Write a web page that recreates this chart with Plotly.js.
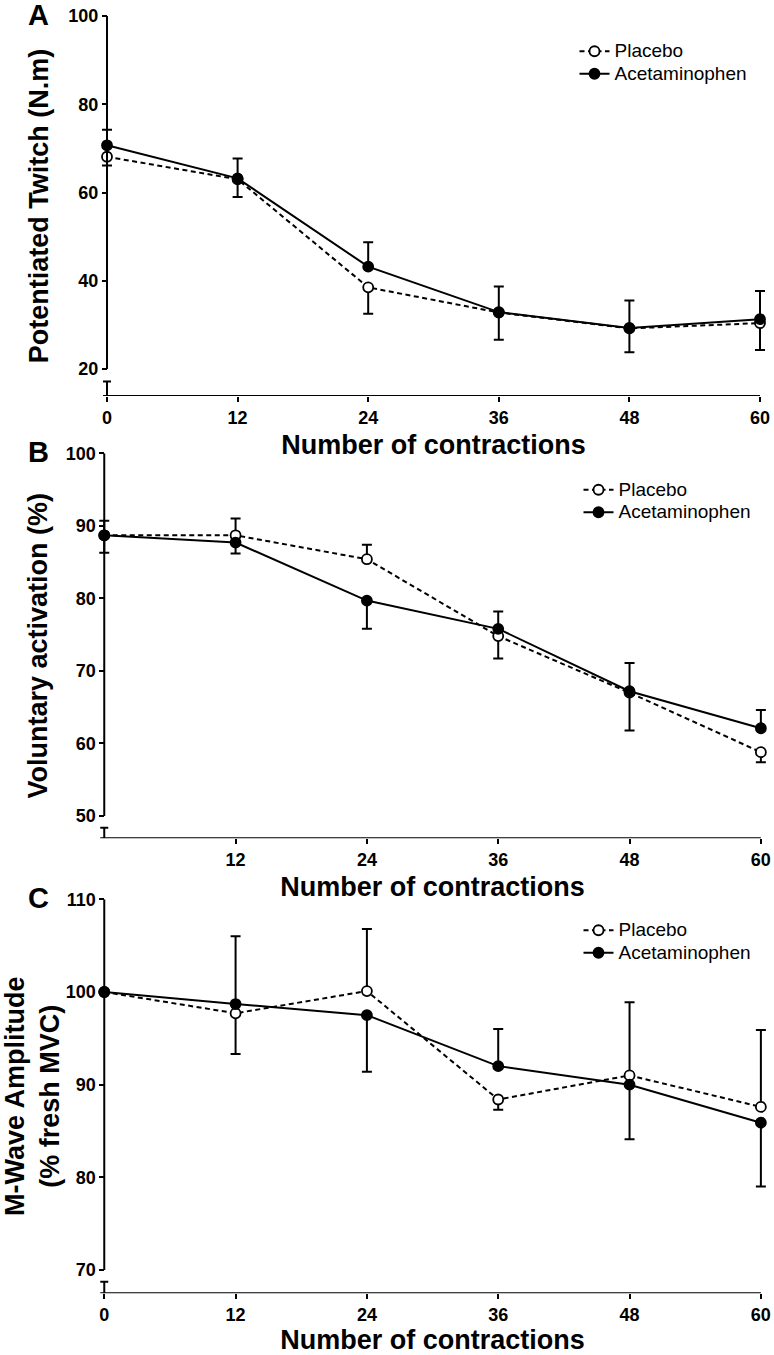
<!DOCTYPE html>
<html>
<head>
<meta charset="utf-8">
<script src="https://cdn.plot.ly/plotly-3.0.1.min.js"></script>
<style>html,body{margin:0;padding:0;background:#fff;}#chart{width:774px;height:1355px;}</style>
</head>
<body>
<div id="chart"></div>
<script>
// ---------- data ----------
const contractions = [0, 12, 24, 36, 48, 60];
const seriesNames = ['Placebo', 'Acetaminophen'];

// Panel A: Potentiated Twitch (N.m)
const placeboA = [68.1, 63.0, 38.5, 32.8, 29.2, 30.4];
const placeboA_errUp = [0, 0, 0, 0, 0, 0];
const placeboA_errDown = [2.0, 4.0, 6.0, 6.2, 5.4, 6.1];
const acetA = [70.7, 63.2, 43.2, 32.9, 29.3, 31.3];
const acetA_errUp = [3.5, 4.5, 5.5, 5.8, 6.2, 6.4];
const acetA_errDown = [0, 0, 0, 0, 0, 0];

// Panel B: Voluntary activation (%)
const placeboB = [88.7, 88.7, 85.4, 74.8, 67.0, 58.8];
const placeboB_errUp = [2.0, 2.3, 2.0, 0, 0, 0];
const placeboB_errDown = [0, 0, 0, 3.1, 5.2, 1.4];
const acetB = [88.7, 87.7, 79.7, 75.8, 67.2, 62.1];
const acetB_errUp = [0, 0, 0, 2.4, 3.9, 2.5];
const acetB_errDown = [2.4, 1.5, 3.9, 0, 0, 0];

// Panel C: M-Wave Amplitude (% fresh MVC)
const placeboC = [100, 97.7, 100.1, 88.4, 91.0, 87.6];
const placeboC_errUp = [0, 0, 6.7, 0, 7.9, 8.3];
const placeboC_errDown = [0, 4.4, 0, 1.1, 0, 0];
const acetC = [100, 98.7, 97.5, 92.0, 90.0, 85.9];
const acetC_errUp = [0, 7.3, 0, 4.0, 0, 0];
const acetC_errDown = [0, 0, 6.1, 0, 5.9, 6.9];

// tick labels
const xTicksA = [0, 12, 24, 36, 48, 60];
const xTicksB = [12, 24, 36, 48, 60];
const xTicksC = [0, 12, 24, 36, 48, 60];
const yTicksA = [20, 40, 60, 80, 100];
const yTicksB = [50, 60, 70, 80, 90, 100];
const yTicksC = [70, 80, 90, 100, 110];

const xTitle = 'Number of contractions';
const yTitleA = 'Potentiated Twitch (N.m)';
const yTitleB = 'Voluntary activation (%)';
const yTitleC = 'M-Wave Amplitude<br>(% fresh MVC)';
const panelLetters = ['A', 'B', 'C'];

// ---------- styling / layout ----------
const FONT = 'Liberation Sans, Arial, Helvetica, sans-serif';
const W = 774, H = 1355;
const px2fx = p => p / W;
const px2fy = p => 1 - p / H;
const X_MIN = 0, X_MAX = 60, X_PAD = 1.2; // pad keeps end error-bar caps unclipped
const legendLabel = s => '<span style="font-size:19px">' + s + '</span>';

const panels = [
  {key: '', letter: panelLetters[0], pl: placeboA, plU: placeboA_errUp, plD: placeboA_errDown,
   ac: acetA, acU: acetA_errUp, acD: acetA_errDown, xt: xTicksA, yt: yTicksA, ytitle: yTitleA,
   xdom: [107, 760], ydom: [16, 396], yrange: [13.88, 100], brk: 17.17, ystand: 10,
   legendY: 35, legendX: 574.5},
  {key: '2', letter: panelLetters[1], pl: placeboB, plU: placeboB_errUp, plD: placeboB_errDown,
   ac: acetB, acU: acetB_errUp, acD: acetB_errDown, xt: xTicksB, yt: yTicksB, ytitle: yTitleB,
   xdom: [104.3, 763.3], ydom: [453.3, 838.3], yrange: [46.93, 100], brk: 48.39, ystand: 9,
   legendY: 473.5, legendX: 578.5},
  {key: '3', letter: panelLetters[2], pl: placeboC, plU: placeboC_errUp, plD: placeboC_errDown,
   ac: acetC, acU: acetC_errUp, acD: acetC_errDown, xt: xTicksC, yt: yTicksC, ytitle: yTitleC,
   xdom: [104.3, 762.7], ydom: [899.3, 1293.3], yrange: [67.49, 110], brk: 68.74, ystand: 9,
   legendY: 914, legendX: 578.5}
];

const traces = [];
const layout = {
  width: W, height: H,
  margin: {l: 0, r: 0, t: 0, b: 0},
  paper_bgcolor: '#fff', plot_bgcolor: 'rgba(0,0,0,0)',
  font: {family: FONT, color: '#000'},
  showlegend: true,
  shapes: [], annotations: []
};

panels.forEach((p, i) => {
  const xa = 'x' + p.key, ya = 'y' + p.key;
  const lg = i === 0 ? 'legend' : 'legend' + (i + 1);
  const common = {x: contractions, xaxis: xa, yaxis: ya, mode: 'lines+markers', cliponaxis: false, legend: lg};
  traces.push(Object.assign({}, common, {
    y: p.pl, name: legendLabel(seriesNames[0]),
    line: {color: '#000', width: 2, dash: '5px,3.5px'},
    marker: {symbol: 'circle', size: 10, color: '#fff', line: {color: '#000', width: 1.8}},
    error_y: {type: 'data', symmetric: false, array: p.plU, arrayminus: p.plD, color: '#000', thickness: 2, width: 5}
  }));
  traces.push(Object.assign({}, common, {
    y: p.ac, name: legendLabel(seriesNames[1]),
    line: {color: '#000', width: 2},
    marker: {symbol: 'circle', size: 10, color: '#000', line: {color: '#000', width: 1.8}},
    error_y: {type: 'data', symmetric: false, array: p.acU, arrayminus: p.acD, color: '#000', thickness: 2, width: 5}
  }));

  const ppu = (p.xdom[1] - p.xdom[0]) / (X_MAX - X_MIN);
  const xname = 'xaxis' + p.key, yname = 'yaxis' + p.key;
  layout[xname] = {
    domain: [px2fx(p.xdom[0] - X_PAD * ppu), px2fx(p.xdom[1] + X_PAD * ppu)],
    range: [X_MIN - X_PAD, X_MAX + X_PAD], anchor: ya, fixedrange: true,
    showgrid: false, zeroline: false, showline: false,
    ticks: 'outside', ticklen: 5, tickwidth: 2, tickcolor: '#000',
    tickmode: 'array', tickvals: p.xt, ticktext: p.xt.map(String),
    tickfont: {family: FONT, size: 18, weight: 'bold', color: '#000'},
    title: {text: xTitle, font: {family: FONT, size: 27, weight: 'bold', color: '#000'}, standoff: 8}
  };
  layout[yname] = {
    domain: [px2fy(p.ydom[1]), px2fy(p.ydom[0])],
    range: p.yrange, anchor: 'free', position: px2fx(p.xdom[0]), fixedrange: true,
    showgrid: false, zeroline: false, showline: false,
    ticks: 'outside', ticklen: 5, tickwidth: 2, tickcolor: '#000',
    tickmode: 'array', tickvals: p.yt, ticktext: p.yt.map(String),
    tickfont: {family: FONT, size: 18, weight: 'bold', color: '#000'},
    title: {text: p.ytitle, font: {family: FONT, size: 27, weight: 'bold', color: '#000'}, standoff: p.ystand}
  };

  const yLow = p.yt[0], yTop = p.yt[p.yt.length - 1];
  const axLine = {color: '#000', width: 2};
  // x axis line
  layout.shapes.push({type: 'line', xref: xa, yref: ya, x0: X_MIN, x1: X_MAX, y0: p.yrange[0], y1: p.yrange[0], line: axLine});
  // broken y axis: main segment
  layout.shapes.push({type: 'line', xref: xa, yref: ya, x0: X_MIN, x1: X_MIN, y0: yLow, y1: Math.max(yTop, p.yrange[1]), line: axLine});
  // lower segment below the break
  layout.shapes.push({type: 'line', xref: xa, yref: ya, x0: X_MIN, x1: X_MIN, y0: p.yrange[0], y1: p.brk, line: axLine});
  // break cap
  layout.shapes.push({type: 'line', xref: xa, yref: ya, xsizemode: 'pixel', xanchor: X_MIN, x0: -4, x1: 4,
    y0: p.brk, y1: p.brk, line: axLine});
  // small stub of x axis left of the y axis
  layout.shapes.push({type: 'line', xref: xa, yref: ya, xsizemode: 'pixel', xanchor: X_MIN, x0: -4, x1: 0,
    y0: p.yrange[0], y1: p.yrange[0], line: axLine});

  // panel letter
  layout.annotations.push({text: p.letter, xref: 'paper', yref: 'paper', x: px2fx(38), y: px2fy(p.ydom[0] - 1),
    xanchor: 'center', yanchor: 'middle', showarrow: false,
    font: {family: FONT, size: 29, weight: 'bold', color: '#000'}});

  layout[lg] = {
    x: px2fx(p.legendX), y: px2fy(p.legendY), xanchor: 'left', yanchor: 'top',
    bgcolor: 'rgba(0,0,0,0)', borderwidth: 0, itemwidth: 30,
    font: {family: FONT, size: 15, color: '#000'}, tracegroupgap: 0
  };
});

Plotly.newPlot('chart', traces, layout, {displayModeBar: false, staticPlot: true});
</script>
</body>
</html>
